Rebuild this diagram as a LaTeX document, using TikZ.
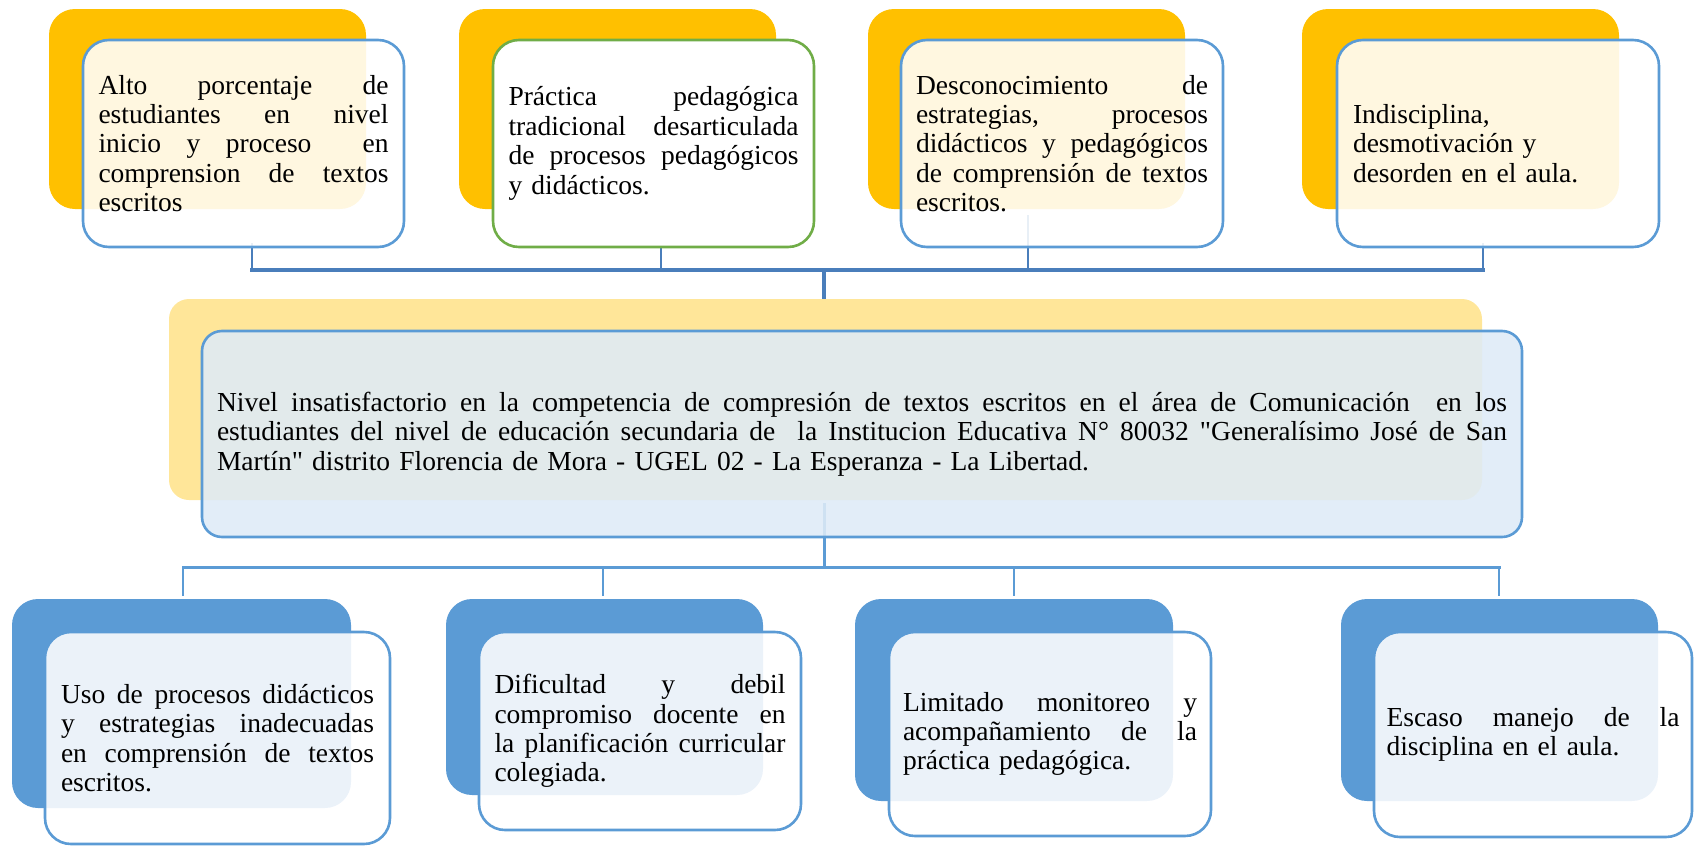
\documentclass[tikz,border=0pt]{standalone}
\usepackage{fontspec}
\setmainfont{Liberation Serif}[Ligatures=TeXOff]
\definecolor{orangeC}{HTML}{FFC000}
\definecolor{yellowC}{HTML}{FFE699}
\definecolor{blueB}{HTML}{5B9BD5}
\definecolor{greenB}{HTML}{70AD47}
\definecolor{lightB}{HTML}{DEEBF7}
\definecolor{busC}{HTML}{4A7EBB}
\newcommand{\jl}[1]{{\spaceskip=0pt\xspaceskip=0pt\makebox[\hsize][s]{#1}}}
\pgfdeclarelayer{background}
\pgfsetlayers{background,main}
\begin{document}
\begin{tikzpicture}[x=1pt,y=-1pt,
  box/.style={anchor=north west, inner sep=0pt, outer sep=0pt, rounded corners=26pt},
  backO/.style={box, fill=orangeC},
  backB/.style={box, fill=blueB},
  backY/.style={box, fill=yellowC, rounded corners=20pt},
  front/.style={box, draw=blueB, line width=2.6pt, fill=white, fill opacity=0.88, text opacity=1,
     font=\fontsize{27.5}{29.4}\selectfont, align=left},
  frontG/.style={front, draw=greenB, fill opacity=1},
  frontC/.style={front, fill=lightB, rounded corners=20pt},
  bus/.style={draw=busC, line width=3.5pt, line cap=rect},
  busb/.style={draw=blueB, line width=3pt, line cap=rect},
  drop/.style={draw=busC, line width=1.4pt},
  dropb/.style={draw=blueB, line width=2.6pt}
]
\useasboundingbox (0,0) rectangle (1694,846);

% back boxes
\node[backO, minimum width=317pt, minimum height=200pt] (k1) at (49,9) {};
\node[backO, minimum width=317pt, minimum height=200pt] (k2) at (459,9) {};
\node[backO, minimum width=317pt, minimum height=200pt] (k3) at (868,9) {};
\node[backO, minimum width=317pt, minimum height=200pt] (k4) at (1302,9) {};
\node[backY, minimum width=1313pt, minimum height=201pt] (c0) at (169,299) {};
\node[backB, minimum width=339pt, minimum height=209pt] (g1) at (12,599) {};
\node[backB, minimum width=317pt, minimum height=196pt] (g2) at (446,599) {};
\node[backB, minimum width=318pt, minimum height=202pt] (g3) at (855,599) {};
\node[backB, minimum width=317pt, minimum height=202pt] (g4) at (1341,599) {};

% bus coordinates
\coordinate (ta) at (252,270);
\coordinate (tb) at (661,270);
\coordinate (tc) at (1028,270);
\coordinate (td) at (1483,270);
\coordinate (tm) at (824,270);
\coordinate (ba) at (183,567);
\coordinate (bb) at (603,567);
\coordinate (bc) at (1014,567);
\coordinate (bd) at (1499,567);
\coordinate (bm) at (824,567);

% front boxes
\node[front, minimum width=321pt, minimum height=207pt, text width=290pt] (f1) at (83,40) {%
\jl{Alto porcentaje de}\\
\jl{estudiantes en nivel}\\
\jl{inicio y proceso \ en}\\
\jl{comprension de textos}\\
escritos};
\node[frontG, minimum width=321pt, minimum height=207pt, text width=290pt] (f2) at (493,40) {%
\jl{Práctica pedagógica}\\
\jl{tradicional desarticulada}\\
\jl{de procesos pedagógicos}\\
y didácticos.};
\node[front, minimum width=322pt, minimum height=207pt, text width=292pt] (f3) at (901,40) {%
\jl{Desconocimiento de}\\
\jl{estrategias, procesos}\\
\jl{didácticos y pedagógicos}\\
\jl{de comprensión de textos}\\
escritos.};
\node[front, minimum width=322pt, minimum height=207pt, text width=290pt] (f4) at (1337,40) {%
Indisciplina,\\
desmotivación y\\
desorden en el aula.};
\node[frontC, minimum width=1320pt, minimum height=206pt, text width=1290pt] (c1) at (202,331) {%
\jl{Nivel insatisfactorio en la competencia de compresión de textos escritos en el área de Comunicación \ en los}\\
\jl{estudiantes del nivel de educación secundaria de \ la Institucion Educativa N° 80032 "Generalísimo José de San}\\
Martín" distrito Florencia de Mora - UGEL 02 - La Esperanza - La Libertad.};
\node[front, minimum width=345pt, minimum height=212pt, text width=313pt] (h1) at (45,632) {%
\jl{Uso de procesos didácticos}\\
\jl{y estrategias inadecuadas}\\
\jl{en comprensión de textos}\\
escritos.};
\node[front, minimum width=322pt, minimum height=198pt, text width=291pt] (h2) at (479,632) {%
\jl{Dificultad y debil}\\
\jl{compromiso docente en}\\
\jl{la planificación curricular}\\
colegiada.};
\node[front, minimum width=322pt, minimum height=204pt, text width=294pt] (h3) at (889,632) {%
\jl{Limitado monitoreo y}\\
\jl{acompañamiento de la}\\
práctica pedagógica.};
\node[front, minimum width=318pt, minimum height=205pt, text width=293pt] (h4) at (1374,632) {%
\jl{Escaso manejo de la}\\
disciplina en el aula.};

% connectors, behind the boxes
\begin{pgfonlayer}{background}
\draw[drop] ([yshift=4pt]ta |- f1.south) -- (ta);
\draw[drop] ([yshift=4pt]tb |- f2.south) -- (tb);
\draw[drop] ([yshift=32pt]tc |- f3.south) -- (tc);
\draw[drop] ([yshift=4pt]td |- f4.south) -- (td);
\draw[bus] (ta) -- (td);
\draw[bus] (tm) -- (tm |- c0.north);
\draw[busb] ([yshift=33pt]bm |- c1.south) -- (bm);
\draw[busb] (ba) -- (bd);
\draw[dropb] (ba) -- ([yshift=3pt]ba |- g1.north);
\draw[dropb] (bb) -- ([yshift=3pt]bb |- g2.north);
\draw[dropb] (bc) -- ([yshift=3pt]bc |- g3.north);
\draw[dropb] (bd) -- ([yshift=3pt]bd |- g4.north);
\end{pgfonlayer}
\end{tikzpicture}
\end{document}
